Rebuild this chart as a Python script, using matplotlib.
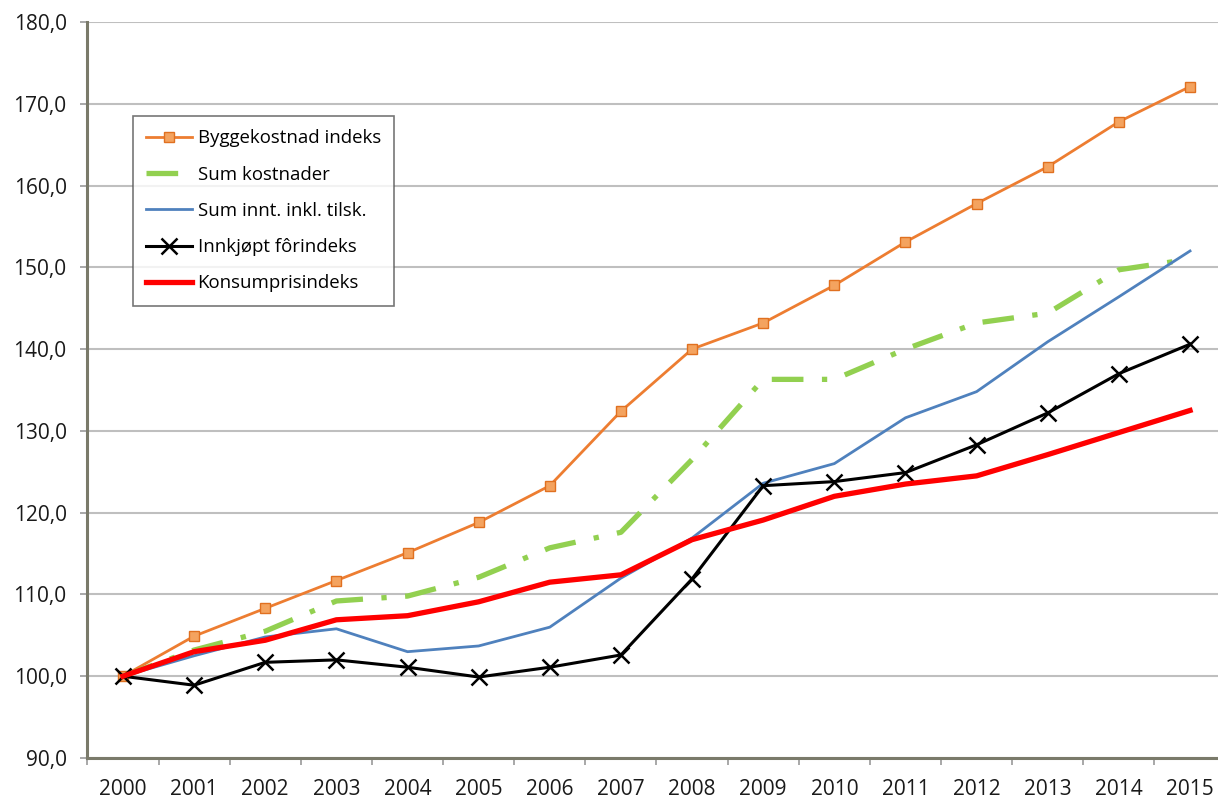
import matplotlib
matplotlib.use("Agg")
import matplotlib.pyplot as plt
from matplotlib.ticker import FuncFormatter, FixedLocator

years = [str(y) for y in range(2000, 2016)]
byggekostnad = [100.0, 104.9, 108.3, 111.7, 115.1, 118.8, 123.3, 132.4, 140.0, 143.2, 147.8, 153.1, 157.8, 162.3, 167.8, 172.1]
sum_kostnader = [100.0, 103.2, 105.5, 109.2, 109.8, 112.1, 115.7, 117.6, 126.5, 136.3, 136.3, 140.0, 143.2, 144.4, 149.7, 151.0]
sum_innt = [100.0, 102.5, 104.8, 105.8, 103.0, 103.7, 106.0, 112.0, 116.9, 123.6, 126.0, 131.6, 134.8, 140.9, 146.4, 152.0]
innkjopt = [100.0, 98.9, 101.7, 102.0, 101.1, 99.9, 101.1, 102.6, 111.9, 123.3, 123.8, 124.9, 128.3, 132.2, 137.0, 140.6]
konsumpris = [100.0, 103.0, 104.4, 106.9, 107.4, 109.1, 111.5, 112.4, 116.7, 119.1, 122.0, 123.5, 124.5, 127.1, 129.8, 132.5]
labels = ["Byggekostnad indeks", "Sum kostnader", "Sum innt. inkl. tilsk.", "Innkjøpt fôrindeks", "Konsumprisindeks"]

plt.rcParams['font.family'] = ['Open Sans', 'DejaVu Sans']

fig = plt.figure(figsize=(12.18, 8.0), dpi=100)
W, H = 1218, 800
left, right, top, bottom = 87.4, 1225.6, 22, 758
ax = fig.add_axes([left / W, 1 - bottom / H, (right - left) / W, (bottom - top) / H])

x = list(range(len(years)))
ax.plot(x, byggekostnad, color='#ED7D31', lw=2.0, marker='s', ms=6.5,
        mfc='#F4A35F', mec='#E07020', mew=1.0, label=labels[0], zorder=3)
ax.plot(x, sum_kostnader, color='#92D050', lw=3.8, dashes=(6, 3.5, 1, 3.5),
        label=labels[1], zorder=3)
ax.plot(x, sum_innt, color='#4F81BD', lw=2.0, label=labels[2], zorder=3)
ax.plot(x, innkjopt, color='black', lw=2.2, marker='x', ms=11, mew=1.8,
        label=labels[3], zorder=4)
ax.plot(x, konsumpris, color='#FF0000', lw=3.8, label=labels[4], zorder=5)

ax.set_xlim(-0.5, len(years) - 0.5)
ax.set_ylim(90, 180)
ax.set_yticks(range(90, 181, 10))
ax.yaxis.set_major_formatter(FuncFormatter(lambda v, p: f"{v:.1f}".replace('.', ',')))
ax.grid(axis='y', color='#BFBFBF', lw=1.5)
ax.set_axisbelow(True)

ax.set_xticks(x)
ax.set_xticklabels(years)
ax.xaxis.set_minor_locator(FixedLocator([i + 0.5 for i in range(-1, len(years))]))
ax.tick_params(axis='x', which='major', length=0, labelsize=15, pad=15, colors='#1a1a1a')
ax.tick_params(axis='x', which='minor', length=5, width=1.2, color='#999999', direction='out')
ax.tick_params(axis='y', length=5, width=1.2, color='#999999', labelsize=15, pad=10, labelcolor='#1a1a1a')

for s in ['top', 'right']:
    ax.spines[s].set_visible(False)
for s in ['left', 'bottom']:
    ax.spines[s].set_color('#7A7A6A')
    ax.spines[s].set_linewidth(2.2)

leg = ax.legend(loc='upper left', bbox_to_anchor=((133 - left) / (right - left), 1 - (116 - top) / (bottom - top)),
                fontsize=13.4, frameon=True, fancybox=False, edgecolor='#555555',
                handlelength=2.45, labelspacing=0.98, borderpad=0.72, handletextpad=0.3,
                borderaxespad=0)
leg.get_frame().set_linewidth(1.2)

fig.savefig('out.png', dpi=100)
